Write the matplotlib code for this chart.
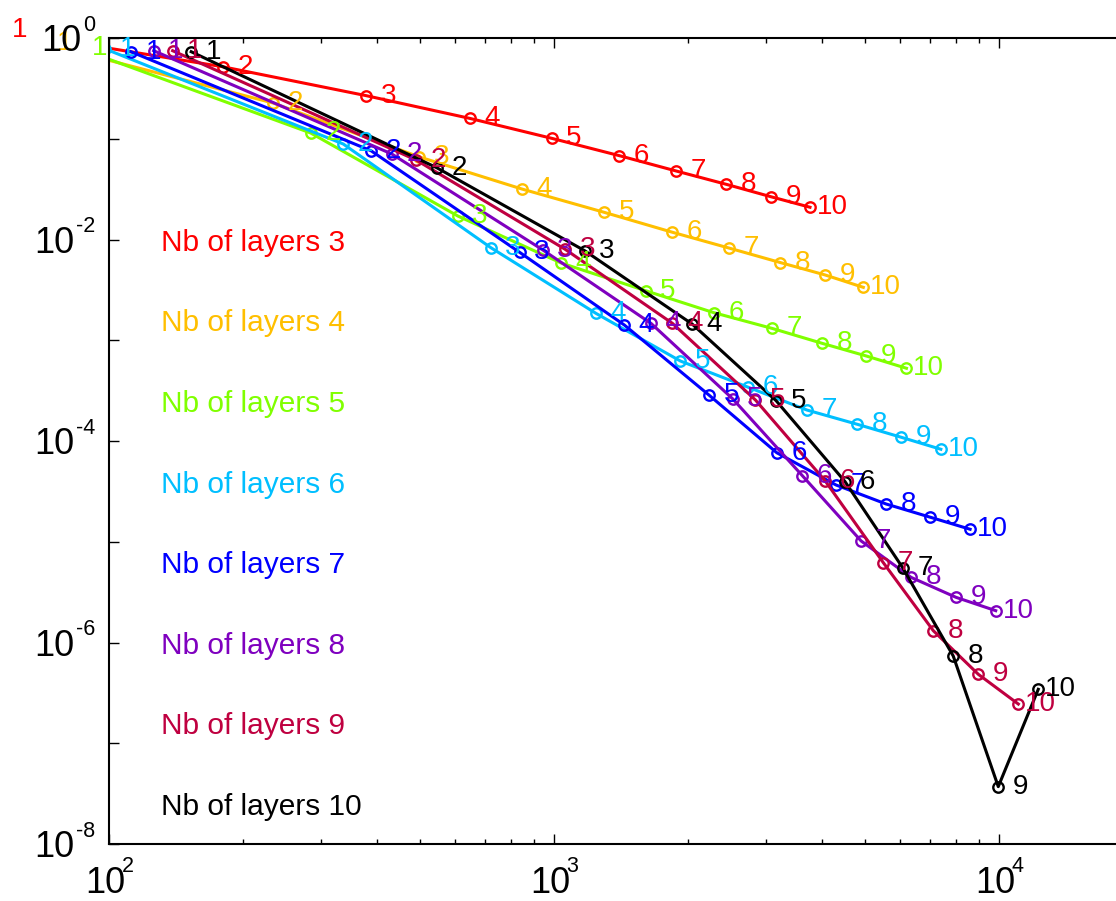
import matplotlib
matplotlib.use('Agg')
import matplotlib.pyplot as plt
from matplotlib.ticker import FixedLocator, LogLocator, NullFormatter

plt.rcParams['font.family'] = ['Liberation Sans', 'DejaVu Sans']

# data: one x/y list per number of layers, points 1..10
layers = [3, 4, 5, 6, 7, 8, 9, 10]
colors = ['#FF0000', '#FFBF00', '#80FF00', '#00BFFF', '#0000FF', '#7F00BF', '#BF0040', '#000000']

x3 = [56, 180, 378, 648, 988, 1403, 1880, 2438, 3070, 3760]
y3 = [1.2, 0.519, 0.268, 0.159, 0.101, 0.0679, 0.0479, 0.0353, 0.0266, 0.0209]
x4 = [71, 234, 498, 847, 1297, 1845, 2479, 3227, 4064, 4955]
y4 = [0.89, 0.226, 0.066, 0.0317, 0.0186, 0.0118, 0.0082, 0.0059, 0.00445, 0.00335]
x5 = [85, 284, 608, 1037, 1607, 2284, 3093, 4011, 5020, 6194]
y5 = [0.80, 0.114, 0.0171, 0.00585, 0.0031, 0.00188, 0.00131, 0.00093, 0.0007, 0.000527]
x6 = [98, 336, 721, 1242, 1923, 2734, 3700, 4790, 6025, 7400]
y6 = [0.78, 0.0887, 0.0083, 0.00185, 0.000622, 0.000341, 0.000203, 0.000147, 0.000109, 8.28e-5]
x7 = [112, 388, 837, 1439, 2229, 3166, 4302, 5575, 7012, 8610]
y7 = [0.731, 0.076, 0.00746, 0.001416, 0.000286, 7.65e-5, 3.66e-5, 2.37e-5, 1.75e-5, 1.33e-5]
x8 = [126, 432, 944, 1652, 2523, 3614, 4897, 6345, 8000, 9830]
y8 = [0.748, 0.0706, 0.00787, 0.00147, 0.000261, 4.53e-5, 1.02e-5, 4.43e-6, 2.81e-6, 2.07e-6]
x9 = [139, 490, 1059, 1846, 2836, 4064, 5495, 7117, 8985, 11050]
y9 = [0.748, 0.0615, 0.008, 0.00147, 0.000255, 4.04e-5, 6.2e-6, 1.31e-6, 4.83e-7, 2.45e-7]
x10 = [153, 545, 1172, 2043, 3156, 4508, 6075, 7890, 9960, 12250]
y10 = [0.731, 0.0516, 0.00774, 0.00145, 0.000251, 3.95e-5, 5.52e-6, 7.35e-7, 3.71e-8, 3.43e-7]

xs = [x3, x4, x5, x6, x7, x8, x9, x10]
ys = [y3, y4, y5, y6, y7, y8, y9, y10]

# tick decades
xexp = [2, 3, 4]
yexp = [-8, -7, -6, -5, -4, -3, -2, -1, 0]

fig = plt.figure(figsize=(11.16, 9.01), dpi=100)
ax = fig.add_axes([109/1116, 57/901, 1024/1116, 806/901])

for k in range(len(layers)):
    ax.plot(xs[k], ys[k], color=colors[k], lw=2.2, marker='o', ms=7.5,
            mfc='none', mew=1.7)
    for i in range(len(xs[k])):
        ax.annotate(str(i+1), (xs[k][i], ys[k][i]), xytext=(16, 0),
                    textcoords='offset points', ha='center', va='center',
                    fontsize=20, color=colors[k], annotation_clip=False)
    # series name on the left
    ax.text(0.051, 0.746 - 0.1*k, 'Nb of layers %d' % layers[k],
            transform=ax.transAxes, color=colors[k], fontsize=21.5, va='center')

ax.set_xscale('log')
ax.set_yscale('log')
ax.set_xlim(100, 2e4)
ax.set_ylim(1e-8, 1)

ax.xaxis.set_major_locator(FixedLocator([10.0**e for e in xexp]))
ax.xaxis.set_minor_locator(LogLocator(base=10, subs=range(2, 10), numticks=20))
ax.xaxis.set_minor_formatter(NullFormatter())
ax.xaxis.set_major_formatter(NullFormatter())
ax.yaxis.set_major_locator(FixedLocator([10.0**e for e in yexp]))
ax.yaxis.set_minor_locator(FixedLocator([]))
ax.yaxis.set_major_formatter(NullFormatter())

ax.tick_params(which='both', direction='in', top=True, right=True, width=1)
ax.tick_params(which='major', length=7)
ax.tick_params(which='minor', length=3.6)
for s in ax.spines.values():
    s.set_linewidth(1.5)

# power-of-ten labels: base and a raised exponent
base_fs = 26
sup_fs = 15.5
for e in xexp:
    ax.annotate('10', (10.0**e, 0), xycoords=('data', 'axes fraction'),
                xytext=(-3, -35.5), textcoords='offset points',
                ha='center', va='baseline', fontsize=base_fs, annotation_clip=False)
    ax.annotate(str(e), (10.0**e, 0), xycoords=('data', 'axes fraction'),
                xytext=(9, -20), textcoords='offset points',
                ha='left', va='baseline', fontsize=sup_fs, annotation_clip=False)
for e in yexp:
    if e % 2:
        continue
    sup = str(e)
    w = sum(0.333 if c == '-' else 0.556 for c in sup) * sup_fs
    ax.annotate(sup, (0, 10.0**e), xycoords=('axes fraction', 'data'),
                xytext=(-10, 5.2), textcoords='offset points',
                ha='right', va='baseline', fontsize=sup_fs, annotation_clip=False)
    ax.annotate('10', (0, 10.0**e), xycoords=('axes fraction', 'data'),
                xytext=(-11.5 - w, -9.7), textcoords='offset points',
                ha='right', va='baseline', fontsize=base_fs, annotation_clip=False)

fig.savefig('out.png', dpi=100)
